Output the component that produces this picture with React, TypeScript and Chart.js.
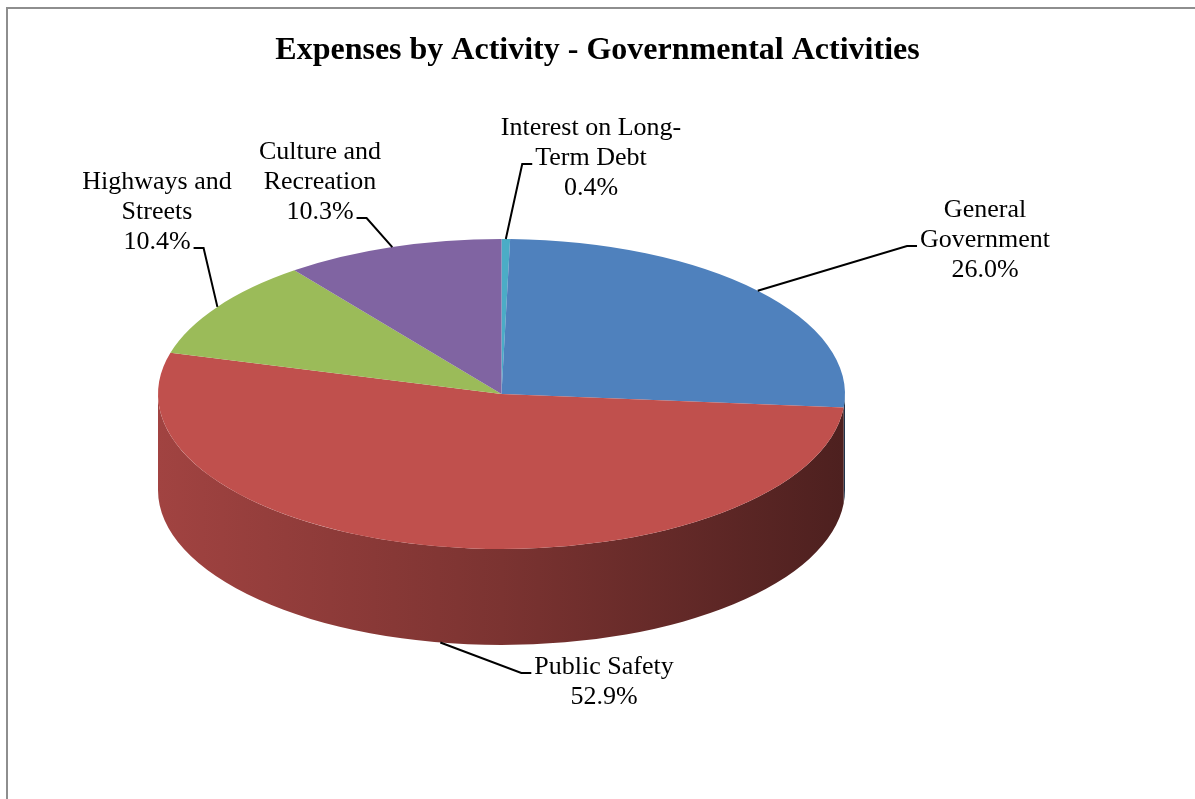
import React, { useEffect, useRef } from 'react';
import { Chart, registerables } from 'chart.js';

Chart.register(...registerables);

// ---- data ----
const TITLE = 'Expenses by Activity - Governmental Activities';
const CATEGORIES: string[][] = [
  ['Interest on Long-', 'Term Debt'],
  ['General', 'Government'],
  ['Public Safety'],
  ['Highways and', 'Streets'],
  ['Culture and', 'Recreation'],
];
const SHARES: number[] = [0.4, 26.0, 52.9, 10.4, 10.3];
const COLORS: string[] = ['#4BACC6', '#4F81BD', '#C0504D', '#9BBB59', '#8064A2'];

// ---- layout (screen geometry of the tilted pie and label anchors) ----
const PIE = { cx: 501.5, cy: 394, rx: 343.5, ry: 155, depth: 96 };
const LABEL_POS = [
  { x: 591, y: 128, line: 1, side: -1 },
  { x: 985, y: 210, line: 1, side: -1 },
  { x: 604, y: 667, line: 0, side: -1 },
  { x: 157, y: 182, line: 2, side: 1 },
  { x: 320, y: 152, line: 2, side: 1 },
];
const LABEL_FONT = "26px 'Liberation Serif', 'Times New Roman', serif";
const LINE_H = 30;

function shade(hex: string, f: number): string {
  const n = parseInt(hex.slice(1), 16);
  const r = Math.round(((n >> 16) & 255) * f);
  const g = Math.round(((n >> 8) & 255) * f);
  const b = Math.round((n & 255) * f);
  return `rgb(${r},${g},${b})`;
}

const pie3d = {
  id: 'pie3d',
  beforeDraw(chart: any) {
    const ctx = chart.ctx;
    ctx.save();
    ctx.fillStyle = '#ffffff';
    ctx.fillRect(0, 0, chart.width, chart.height);
    ctx.fillStyle = '#8e8e8e';
    ctx.fillRect(6, 7, chart.width - 6, 2);
    ctx.fillRect(6, 7, 2, chart.height - 7);
    ctx.restore();
  },
  beforeDatasetsDraw(chart: any) {
    const ctx = chart.ctx;
    const meta = chart.getDatasetMeta(0);
    if (!meta.data.length) return;
    const { cx, cy, rx, ry, depth } = PIE;
    // side walls (front half only)
    meta.data.forEach((arc: any, i: number) => {
      const { startAngle, endAngle } = arc.getProps(['startAngle', 'endAngle'], true);
      const a1 = Math.max(startAngle, 0);
      const a2 = Math.min(endAngle, Math.PI);
      if (a2 <= a1) return;
      ctx.save();
      ctx.beginPath();
      ctx.ellipse(cx, cy, rx, ry, 0, a1, a2, false);
      ctx.ellipse(cx, cy + depth, rx, ry, 0, a2, a1, true);
      ctx.closePath();
      const g = ctx.createLinearGradient(cx - rx, 0, cx + rx, 0);
      g.addColorStop(0, shade(COLORS[i], 0.84));
      g.addColorStop(0.5, shade(COLORS[i], 0.64));
      g.addColorStop(1, shade(COLORS[i], 0.4));
      ctx.fillStyle = g;
      ctx.fill();
      ctx.restore();
    });
    const a0 = meta.data[0];
    const k = ry / rx;
    ctx.save();
    ctx.translate(cx, cy);
    ctx.scale(1, k);
    ctx.translate(-a0.x, -a0.y);
  },
  afterDatasetsDraw(chart: any) {
    chart.ctx.restore();
  },
  afterDraw(chart: any) {
    const ctx = chart.ctx;
    const meta = chart.getDatasetMeta(0);
    const { cx, cy, rx, ry, depth } = PIE;
    ctx.save();
    ctx.font = LABEL_FONT;
    ctx.fillStyle = '#000';
    ctx.strokeStyle = '#000';
    ctx.lineWidth = 2;
    ctx.textAlign = 'center';
    ctx.textBaseline = 'middle';
    meta.data.forEach((arc: any, i: number) => {
      const lp = LABEL_POS[i];
      const lines = [...CATEGORIES[i], SHARES[i].toFixed(1) + '%'];
      lines.forEach((t, j) => ctx.fillText(t, lp.x, lp.y + j * LINE_H));
      const { startAngle, endAngle } = arc.getProps(['startAngle', 'endAngle'], true);
      const mid = (startAngle + endAngle) / 2;
      const px = cx + rx * Math.cos(mid);
      const py = cy + ry * Math.sin(mid) + (Math.sin(mid) > 0.05 ? depth : 0);
      const tw = ctx.measureText(lines[lp.line]).width;
      const ty = lp.y + lp.line * LINE_H + 6;
      const tx = lp.x + lp.side * (tw / 2 + 3);
      const ex = tx + lp.side * 10;
      ctx.beginPath();
      ctx.moveTo(px, py);
      ctx.lineTo(ex, ty);
      ctx.lineTo(tx, ty);
      ctx.stroke();
    });
    ctx.restore();
  },
};

export default function App() {
  const ref = useRef<HTMLCanvasElement | null>(null);
  useEffect(() => {
    if (!ref.current) return;
    const chart = new Chart(ref.current, {
      type: 'pie',
      data: {
        labels: CATEGORIES,
        datasets: [
          {
            data: SHARES,
            backgroundColor: COLORS,
            borderWidth: 0,
            radius: PIE.rx,
            clip: false,
          } as any,
        ],
      },
      options: {
        responsive: false,
        animation: false,
        events: [],
        layout: { padding: 0 },
        plugins: {
          legend: { display: false },
          tooltip: { enabled: false },
          title: {
            display: true,
            text: TITLE,
            color: '#000',
            font: { family: "'Liberation Serif', 'Times New Roman', serif", size: 32, weight: 'bold' },
            padding: { top: 32, bottom: 10 },
          },
        },
      } as any,
      plugins: [pie3d],
    });
    return () => chart.destroy();
  }, []);
  return (
    <div style={{ position: 'absolute', left: 0, top: 0, width: 1195, height: 799, background: '#fff' }}>
      <canvas ref={ref} width={1195} height={799} style={{ display: 'block' }} />
    </div>
  );
}
